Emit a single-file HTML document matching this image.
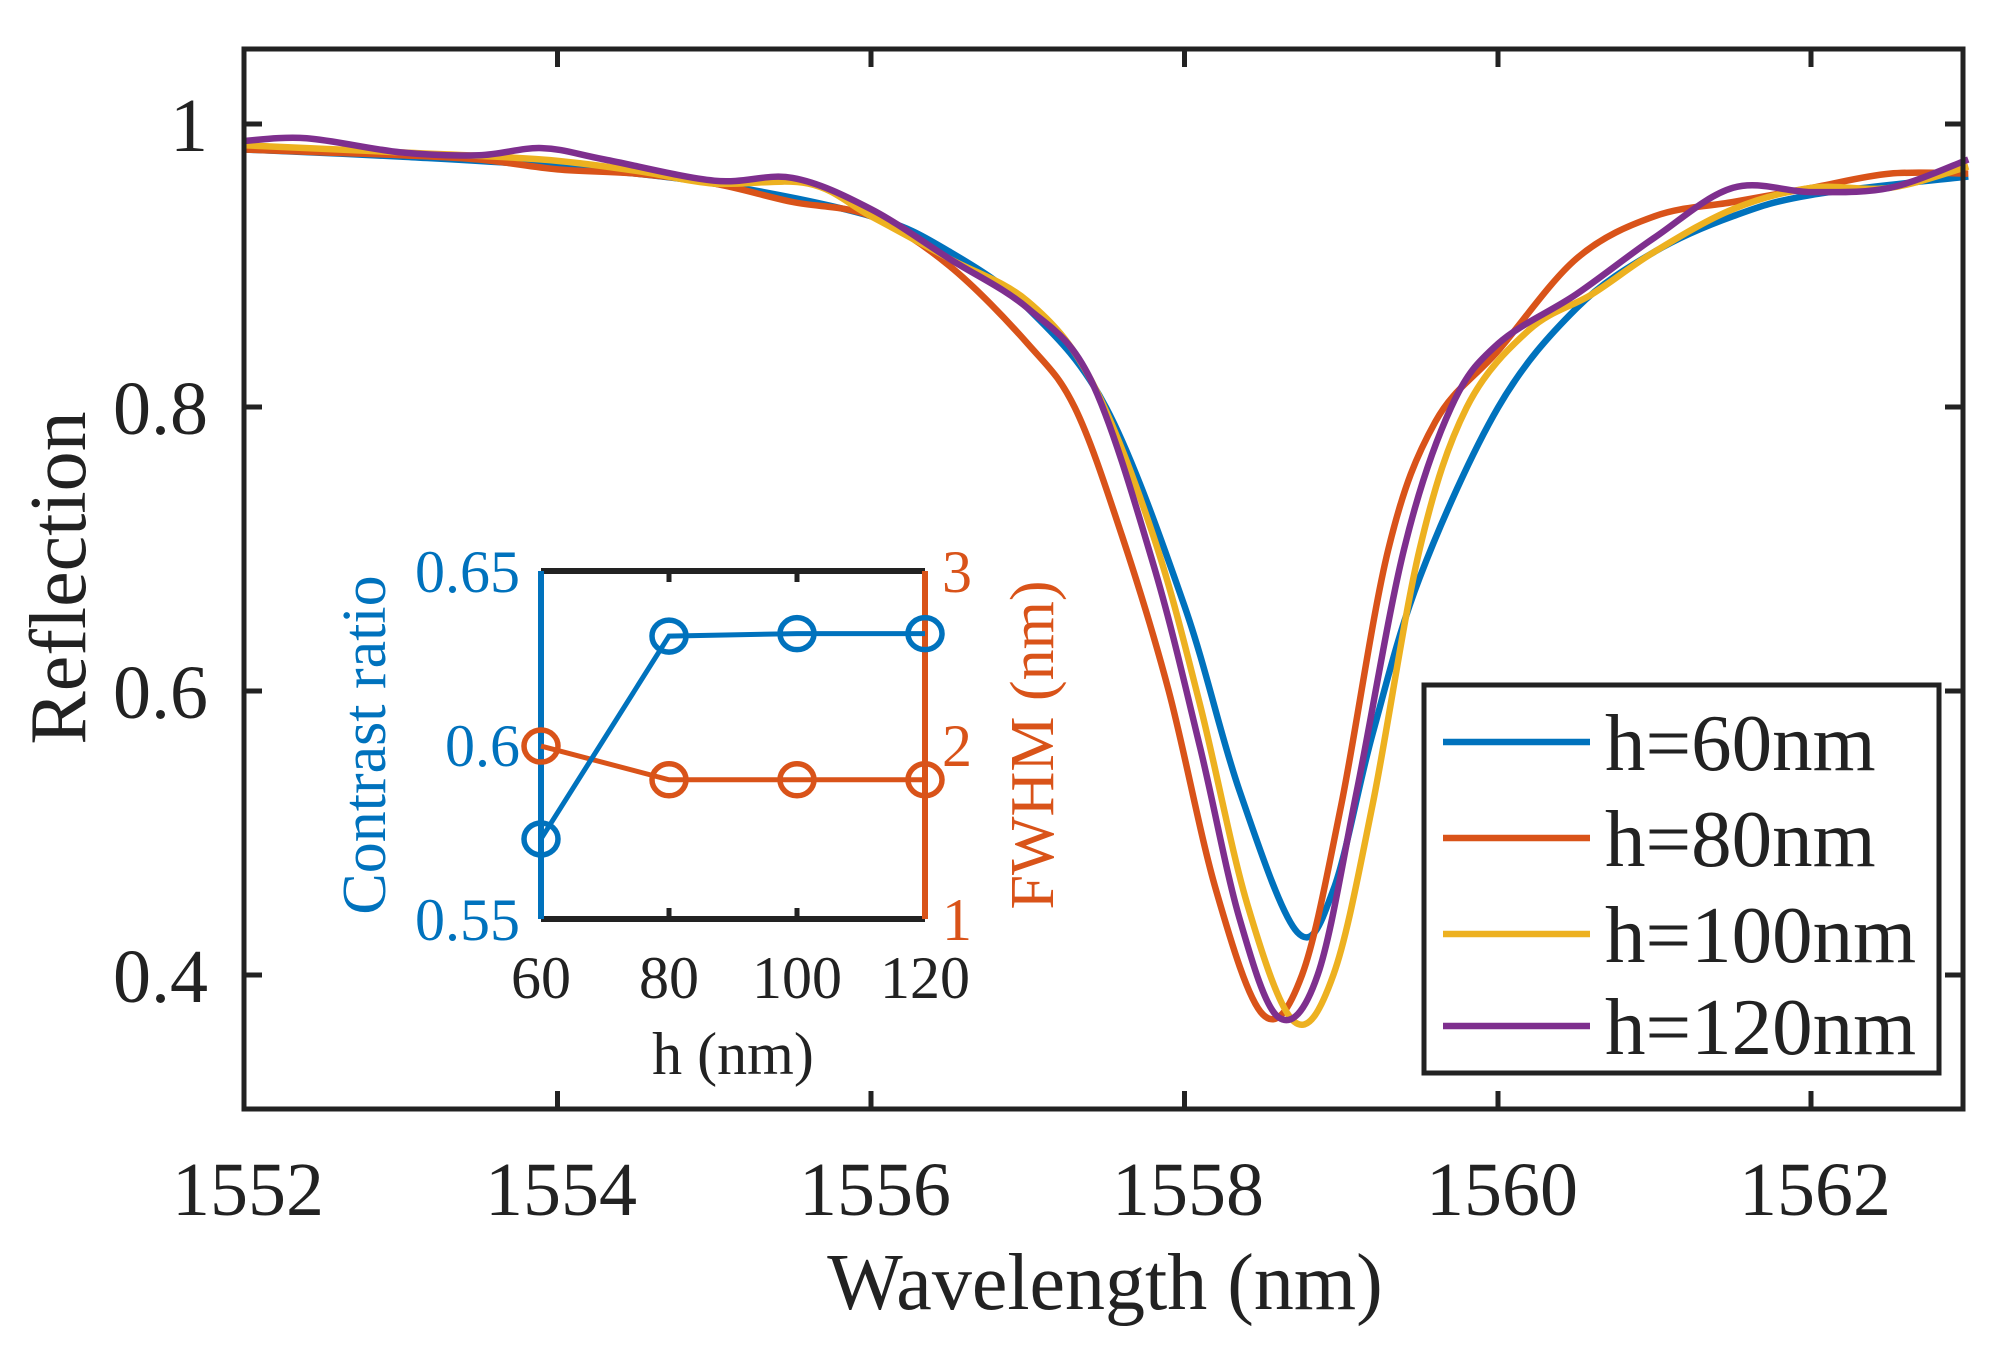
<!DOCTYPE html>
<html><head><meta charset="utf-8"><style>
html,body{margin:0;padding:0;background:#fff;}
svg{display:block;}
text{font-family:"Liberation Serif",serif;}
</style></head><body>
<svg id="s" width="2003" height="1349" viewBox="0 0 2003 1349" xmlns="http://www.w3.org/2000/svg">
<rect width="2003" height="1349" fill="#fff"/>
<g id="curves" fill="none" stroke-width="6.5" stroke-linejoin="round"></g>
<rect x="244" y="49" width="1719" height="1060" fill="none" stroke="#222" stroke-width="5"/>
<g stroke="#222" stroke-width="5">
<line x1="244" y1="124" x2="262" y2="124"/><line x1="244" y1="407" x2="262" y2="407"/><line x1="244" y1="691" x2="262" y2="691"/><line x1="244" y1="975" x2="262" y2="975"/>
<line x1="1963" y1="124" x2="1945" y2="124"/><line x1="1963" y1="407" x2="1945" y2="407"/><line x1="1963" y1="691" x2="1945" y2="691"/><line x1="1963" y1="975" x2="1945" y2="975"/>
<line x1="557.5" y1="1109" x2="557.5" y2="1091"/><line x1="871" y1="1109" x2="871" y2="1091"/><line x1="1184.5" y1="1109" x2="1184.5" y2="1091"/><line x1="1498" y1="1109" x2="1498" y2="1091"/><line x1="1811" y1="1109" x2="1811" y2="1091"/>
<line x1="557.5" y1="49" x2="557.5" y2="67"/><line x1="871" y1="49" x2="871" y2="67"/><line x1="1184.5" y1="49" x2="1184.5" y2="67"/><line x1="1498" y1="49" x2="1498" y2="67"/><line x1="1811" y1="49" x2="1811" y2="67"/>
</g>
<g font-size="76" fill="#222" text-anchor="end">
<text x="208" y="151">1</text><text x="208" y="434">0.8</text><text x="208" y="718">0.6</text><text x="208" y="1002">0.4</text>
</g>
<g font-size="76" fill="#222" text-anchor="middle">
<text x="248" y="1215">1552</text><text x="561" y="1215">1554</text><text x="875" y="1215">1556</text><text x="1188" y="1215">1558</text><text x="1502" y="1215">1560</text><text x="1815" y="1215">1562</text>
<text font-size="80" x="1105" y="1309">Wavelength (nm)</text>
<text font-size="80" transform="translate(85,578) rotate(-90)">Reflection</text>
</g>
<rect x="1424" y="685" width="515" height="388" fill="#fff" stroke="#222" stroke-width="5"/>
<g stroke-width="6.5">
<line x1="1443" y1="742" x2="1590" y2="742" stroke="#0072BD"/>
<line x1="1443" y1="838" x2="1590" y2="838" stroke="#D95319"/>
<line x1="1443" y1="934" x2="1590" y2="934" stroke="#EDB120"/>
<line x1="1443" y1="1026" x2="1590" y2="1026" stroke="#7E2F8E"/>
</g>
<g font-size="81" fill="#222">
<text x="1605" y="770">h=60nm</text><text x="1605" y="866">h=80nm</text><text x="1605" y="962">h=100nm</text><text x="1605" y="1054">h=120nm</text>
</g>
<rect x="541" y="571" width="384" height="348" fill="#fff"/>
<g stroke-width="6">
<line x1="541" y1="571" x2="925" y2="571" stroke="#222"/>
<line x1="541" y1="919" x2="925" y2="919" stroke="#222"/>
<line x1="541" y1="571" x2="541" y2="919" stroke="#0072BD"/>
<line x1="925" y1="571" x2="925" y2="919" stroke="#D95319"/>
</g>
<g stroke="#222" stroke-width="5">
<line x1="669" y1="919" x2="669" y2="908"/><line x1="797" y1="919" x2="797" y2="908"/>
<line x1="669" y1="571" x2="669" y2="582"/><line x1="797" y1="571" x2="797" y2="582"/>
</g>
<g id="inset" fill="none" stroke-width="5"></g>
<g font-size="60" fill="#0072BD" text-anchor="end">
<text x="520" y="592">0.65</text><text x="520" y="766">0.6</text><text x="520" y="940">0.55</text>
</g>
<g font-size="60" fill="#D95319">
<text x="942" y="592">3</text><text x="942" y="766">2</text><text x="942" y="940">1</text>
</g>
<g font-size="60" fill="#222" text-anchor="middle">
<text x="541" y="998">60</text><text x="669" y="998">80</text><text x="797" y="998">100</text><text x="925" y="998">120</text>
<text x="733" y="1074">h (nm)</text>
</g>
<text font-size="62" fill="#0072BD" text-anchor="middle" transform="translate(385,745) rotate(-90)">Contrast ratio</text>
<text font-size="62" fill="#D95319" text-anchor="middle" transform="translate(1053,745) rotate(-90)">FWHM (nm)</text>
</svg>
<script>
var NS="http://www.w3.org/2000/svg";
function X(w){return 244+(w-1552)*156.75;}
function Y(r){return 124+(1-r)*1418;}
var data={
"#0072BD":[[1552,.982],[1553,.977],[1554,.970],[1555,.958],[1556,.935],[1556.5,.91],[1557,.87],[1557.5,.80],[1558,.66],[1558.35,.53],[1558.72,.43],[1558.95,.46],[1559.2,.57],[1559.5,.68],[1560,.80],[1560.5,.87],[1561,.91],[1561.5,.935],[1562,.95],[1563,.963]],
"#D95319":[[1552,.982],[1552.5,.98],[1553,.978],[1553.5,.975],[1554,.968],[1554.5,.965],[1555,.958],[1555.5,.945],[1556,.935],[1556.5,.90],[1557,.845],[1557.3,.80],[1557.6,.71],[1557.9,.60],[1558.2,.46],[1558.5,.372],[1558.75,.40],[1559,.52],[1559.3,.70],[1559.6,.79],[1560,.84],[1560.5,.905],[1561,.935],[1561.5,.945],[1562,.955],[1562.5,.965],[1563,.965]],
"#EDB120":[[1552,.985],[1553,.98],[1553.9,.975],[1554.5,.967],[1555,.958],[1555.6,.958],[1556,.935],[1556.5,.905],[1557,.875],[1557.4,.82],[1557.8,.71],[1558.1,.59],[1558.4,.45],[1558.7,.367],[1558.95,.40],[1559.2,.52],[1559.5,.70],[1559.8,.80],[1560.2,.855],[1560.6,.88],[1561,.91],[1561.5,.94],[1562,.955],[1562.5,.955],[1563,.97]],
"#7E2F8E":[[1552,.988],[1552.4,.99],[1553,.98],[1553.5,.978],[1553.9,.983],[1554.3,.975],[1555,.96],[1555.5,.962],[1556,.94],[1556.5,.905],[1557,.87],[1557.4,.82],[1557.8,.69],[1558.1,.56],[1558.35,.44],[1558.6,.37],[1558.85,.40],[1559.1,.53],[1559.4,.70],[1559.7,.80],[1560,.845],[1560.5,.88],[1561,.92],[1561.5,.955],[1562,.952],[1562.5,.955],[1563,.975]]
};
function cr(p){var d="M"+p[0][0].toFixed(1)+","+p[0][1].toFixed(1);
for(var i=0;i<p.length-1;i++){var a=p[Math.max(i-1,0)],b=p[i],c=p[i+1],e=p[Math.min(i+2,p.length-1)];
var c1=[b[0]+(c[0]-a[0])/6,b[1]+(c[1]-a[1])/6],c2=[c[0]-(e[0]-b[0])/6,c[1]-(e[1]-b[1])/6];
d+="C"+c1[0].toFixed(1)+","+c1[1].toFixed(1)+" "+c2[0].toFixed(1)+","+c2[1].toFixed(1)+" "+c[0].toFixed(1)+","+c[1].toFixed(1);}
return d;}
var g=document.getElementById("curves");
for(var k in data){var p=document.createElementNS(NS,"path");p.setAttribute("d",cr(data[k].map(function(q){return [X(q[0]),Y(q[1])];})));p.setAttribute("stroke",k);g.appendChild(p);}
var ig=document.getElementById("inset");
function ix(h){return 541+(h-60)*6.4;}
function ib(v){return 571+(0.65-v)*3480;}
function io(v){return 571+(3-v)*174;}
var hs=[60,80,100,120],bv=[.573,.6313,.632,.632],ov=[1.994,1.80,1.80,1.80];
function series(ys,col){var pl=document.createElementNS(NS,"polyline");pl.setAttribute("points",hs.map(function(h,i){return ix(h)+","+ys[i];}).join(" "));pl.setAttribute("stroke",col);ig.appendChild(pl);
hs.forEach(function(h,i){var c=document.createElementNS(NS,"ellipse");c.setAttribute("cx",ix(h));c.setAttribute("cy",ys[i]);c.setAttribute("rx",17);c.setAttribute("ry",16);c.setAttribute("stroke",col);c.setAttribute("stroke-width",5.5);ig.appendChild(c);});}
series(ov.map(io),"#D95319");
series(bv.map(ib),"#0072BD");
</script>
</body></html>
